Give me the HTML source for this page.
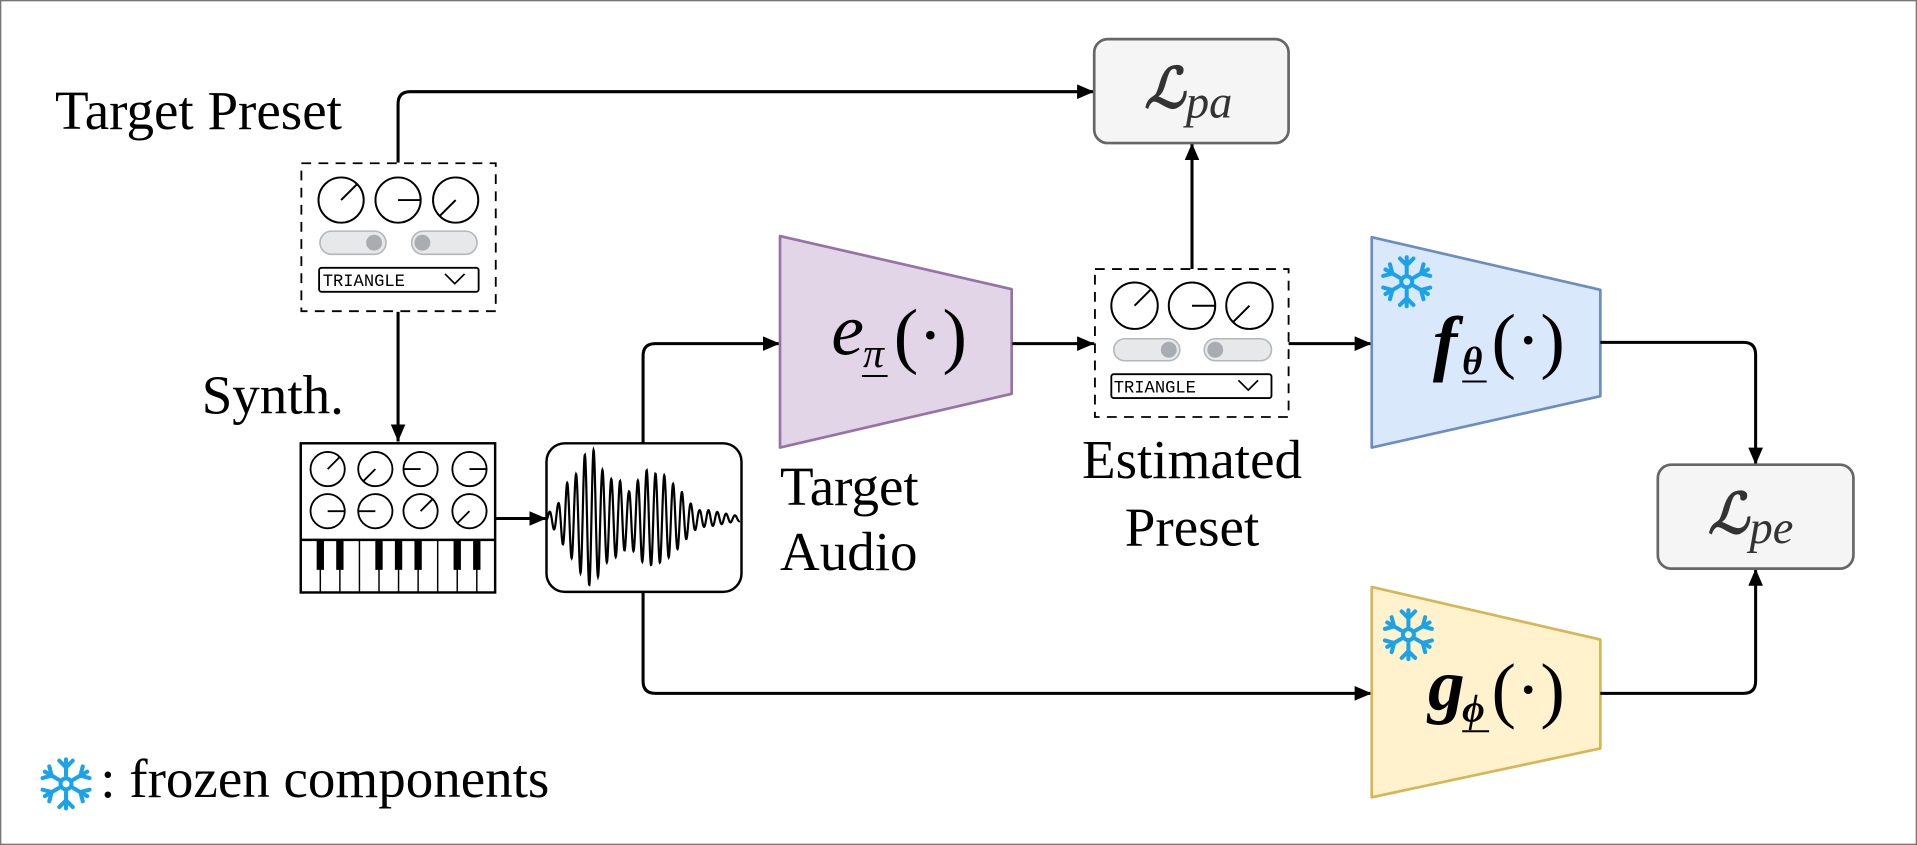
<!DOCTYPE html>
<html><head><meta charset="utf-8"><style>
html,body{margin:0;padding:0;background:#fff}
svg{display:block}
.t{font-family:"Liberation Serif","Times New Roman",serif;fill:#000}
.m{font-family:"Liberation Mono",monospace;fill:#000}
</style></head><body>
<svg width="1917" height="845" viewBox="0 0 1568 691" preserveAspectRatio="none" xmlns="http://www.w3.org/2000/svg">
<defs>
<marker id="ah" viewBox="0 0 14 12" refX="14" refY="6" markerWidth="14" markerHeight="12" markerUnits="userSpaceOnUse" orient="auto">
<path d="M0,0 L14,6 L0,12 z" fill="#000"/></marker>
<g id="snow" stroke="#1aa3e8" stroke-width="3.3" stroke-linecap="round" fill="none">
<circle r="4.5"/>
<g id="arm"><line x1="0" y1="-7" x2="0" y2="-20"/><polyline points="-5.5,-19 0,-13.5 5.5,-19"/></g>
<use href="#arm" transform="rotate(60)"/><use href="#arm" transform="rotate(120)"/>
<use href="#arm" transform="rotate(180)"/><use href="#arm" transform="rotate(240)"/><use href="#arm" transform="rotate(300)"/>
</g>
</defs>
<rect x="0.5" y="0.5" width="1567" height="690" fill="#fff" stroke="#777" stroke-width="1.2"/>

<!-- Target preset -->
<text x="45" y="105.5" class="t" font-size="45">Target Preset</text>
<rect x="246.5" y="133.5" width="159" height="121" fill="none" stroke="#000" stroke-width="1.5" stroke-dasharray="8,6"/>
<g stroke="#000" stroke-width="1.6" fill="none">
<circle cx="279" cy="163.6" r="18.5"/><line x1="279" y1="163.6" x2="292" y2="150.6"/>
<circle cx="325.6" cy="163.6" r="18.5"/><line x1="325.6" y1="163.6" x2="344" y2="163.6"/>
<circle cx="372.7" cy="163.6" r="18.5"/><line x1="372.7" y1="163.6" x2="359.7" y2="176.6"/>
</g>
<rect x="261.7" y="189" width="54" height="19" rx="9.5" fill="#e6e8ea" stroke="#b3b7bb" stroke-width="1.3"/>
<circle cx="306" cy="198.5" r="6.5" fill="#a9adb1"/>
<rect x="336.7" y="189" width="53.5" height="19" rx="9.5" fill="#e6e8ea" stroke="#b3b7bb" stroke-width="1.3"/>
<circle cx="345.5" cy="198.5" r="6.5" fill="#a9adb1"/>
<rect x="261" y="219" width="130.5" height="19.6" rx="2" fill="#fff" stroke="#000" stroke-width="1.5"/>
<text x="264" y="234" class="m" font-size="14">TRIANGLE</text>
<polyline points="364,224 372,232 380,224" fill="none" stroke="#000" stroke-width="1.4"/>

<!-- Synth -->
<text x="165" y="338" class="t" font-size="45">Synth.</text>
<path d="M325.6,255 V361" stroke="#000" stroke-width="2.5" fill="none" marker-end="url(#ah)"/>
<rect x="246" y="362.5" width="159" height="122" fill="#fff" stroke="#000" stroke-width="2"/>
<line x1="246" y1="441.5" x2="405" y2="441.5" stroke="#000" stroke-width="2"/>
<g stroke="#000" stroke-width="1.5" fill="none">
<circle cx="268" cy="383.6" r="14"/><line x1="268" y1="383.6" x2="278" y2="373.6"/>
<circle cx="307" cy="383.6" r="14"/><line x1="307" y1="383.6" x2="297" y2="393.6"/>
<circle cx="344" cy="383.6" r="14"/><line x1="344" y1="383.6" x2="330" y2="383.6"/>
<circle cx="384" cy="383.6" r="14"/><line x1="384" y1="383.6" x2="398" y2="383.6"/>
<circle cx="268" cy="418" r="14"/><line x1="268" y1="418" x2="282" y2="418"/>
<circle cx="307" cy="418" r="14"/><line x1="307" y1="418" x2="293" y2="418"/>
<circle cx="344" cy="418" r="14"/><line x1="344" y1="418" x2="354" y2="408"/>
<circle cx="384" cy="418" r="14"/><line x1="384" y1="418" x2="374" y2="428"/>
</g>
<g stroke="#000" stroke-width="1.2">
<line x1="262" y1="441" x2="262" y2="484"/><line x1="278" y1="441" x2="278" y2="484"/>
<line x1="294" y1="441" x2="294" y2="484"/><line x1="310" y1="441" x2="310" y2="484"/>
<line x1="326" y1="441" x2="326" y2="484"/><line x1="342" y1="441" x2="342" y2="484"/>
<line x1="358" y1="441" x2="358" y2="484"/><line x1="374" y1="441" x2="374" y2="484"/>
<line x1="390" y1="441" x2="390" y2="484"/>
</g>
<g fill="#000">
<rect x="259" y="441" width="6" height="25"/><rect x="275" y="441" width="6" height="25"/>
<rect x="307" y="441" width="6" height="25"/><rect x="323" y="441" width="6" height="25"/>
<rect x="339" y="441" width="6" height="25"/><rect x="371" y="441" width="6" height="25"/>
<rect x="387" y="441" width="6" height="25"/>
</g>
<path d="M405,424 H447" stroke="#000" stroke-width="2.5" fill="none" marker-end="url(#ah)"/>

<!-- Audio -->
<rect x="447" y="362.5" width="159.5" height="121.5" rx="15" fill="#fff" stroke="#000" stroke-width="2"/>
<path id="wave" d="" fill="none" stroke="#000" stroke-width="1.8"/>
<path d="M526,362 V291 Q526,281 536,281 H638" stroke="#000" stroke-width="2.5" fill="none" marker-end="url(#ah)"/>
<path d="M526,484 V557 Q526,567 536,567 H1122" stroke="#000" stroke-width="2.5" fill="none" marker-end="url(#ah)"/>

<!-- Encoder -->
<path d="M638,193 L827.5,236.5 L827.5,322 L638,366 Z" fill="#e1d5e7" stroke="#9673a6" stroke-width="2.2" stroke-linejoin="round"/>
<text x="680" y="290" class="t" font-size="60" font-style="italic">e</text>
<text x="706" y="300" class="t" font-size="34" font-style="italic">π</text>
<line x1="705" y1="307.5" x2="726" y2="307.5" stroke="#000" stroke-width="1.6"/>
<text x="731" y="294" class="t" font-size="60">(·)</text>
<text x="638" y="413" class="t" font-size="45">Target</text>
<text x="638" y="466" class="t" font-size="45">Audio</text>
<path d="M828,281 H895" stroke="#000" stroke-width="2.5" fill="none" marker-end="url(#ah)"/>

<!-- Estimated preset -->
<rect x="895.6" y="220" width="158.4" height="121" fill="none" stroke="#000" stroke-width="1.5" stroke-dasharray="8,6"/>
<g stroke="#000" stroke-width="1.6" fill="none">
<circle cx="928" cy="250" r="19"/><line x1="928" y1="250" x2="941" y2="237"/>
<circle cx="975" cy="250" r="19"/><line x1="975" y1="250" x2="994" y2="250"/>
<circle cx="1022" cy="250" r="19"/><line x1="1022" y1="250" x2="1009" y2="263"/>
</g>
<rect x="911" y="277" width="54" height="18" rx="9" fill="#e6e8ea" stroke="#b3b7bb" stroke-width="1.3"/>
<circle cx="956" cy="286" r="6.5" fill="#a9adb1"/>
<rect x="985" y="277" width="55" height="18" rx="9" fill="#e6e8ea" stroke="#b3b7bb" stroke-width="1.3"/>
<circle cx="994" cy="286" r="6.5" fill="#a9adb1"/>
<rect x="909" y="306" width="131" height="19.5" rx="2" fill="#fff" stroke="#000" stroke-width="1.5"/>
<text x="911" y="321" class="m" font-size="14">TRIANGLE</text>
<polyline points="1013,311 1021,319 1029,311" fill="none" stroke="#000" stroke-width="1.4"/>
<text x="975" y="391" class="t" font-size="45" text-anchor="middle">Estimated</text>
<text x="975" y="446" class="t" font-size="45" text-anchor="middle">Preset</text>
<path d="M975,220 V117" stroke="#000" stroke-width="2.5" fill="none" marker-end="url(#ah)"/>
<path d="M1054,281 H1122" stroke="#000" stroke-width="2.5" fill="none" marker-end="url(#ah)"/>

<!-- Lpa -->
<path d="M325.6,133 V85 Q325.6,75 335.6,75 H895" stroke="#000" stroke-width="2.5" fill="none" marker-end="url(#ah)"/>
<rect x="895" y="32" width="159" height="85" rx="11" fill="#f5f5f5" stroke="#666" stroke-width="2.2"/>
<text x="936" y="88" font-family="DejaVu Serif,serif" font-size="46" font-style="italic" font-weight="bold" fill="#333">ℒ</text>
<text x="970" y="96" class="t" font-size="38" font-style="italic" style="fill:#333">pa</text>

<!-- f -->
<path d="M1122,194 L1309,237 L1309,324 L1122,366 Z" fill="#dae8fc" stroke="#6c8ebf" stroke-width="2.2" stroke-linejoin="round"/>
<use href="#snow" x="1150.6" y="230.4"/>
<text x="1172" y="300" class="t" font-size="60" font-style="italic" font-weight="bold">f</text>
<text x="1196" y="306" class="t" font-size="32" font-style="italic" font-weight="bold">θ</text>
<line x1="1196" y1="312" x2="1216" y2="312" stroke="#000" stroke-width="1.6"/>
<text x="1220" y="298" class="t" font-size="60">(·)</text>
<path d="M1309,280 H1426 Q1436,280 1436,290 V380" stroke="#000" stroke-width="2.5" fill="none" marker-end="url(#ah)"/>

<!-- g -->
<path d="M1122,480 L1309,523 L1309,612 L1122,652 Z" fill="#fff2cc" stroke="#d6b656" stroke-width="2.2" stroke-linejoin="round"/>
<use href="#snow" x="1152" y="519"/>
<text x="1168" y="580" class="t" font-size="60" font-style="italic" font-weight="bold">g</text>
<text x="1196" y="590" class="t" font-size="32" font-style="italic" font-weight="bold">ϕ</text>
<line x1="1196" y1="598" x2="1218" y2="598" stroke="#000" stroke-width="1.6"/>
<text x="1220" y="584" class="t" font-size="60">(·)</text>
<path d="M1309,567 H1426 Q1436,567 1436,557 V465" stroke="#000" stroke-width="2.5" fill="none" marker-end="url(#ah)"/>

<!-- Lpe -->
<rect x="1356" y="380" width="160" height="85" rx="11" fill="#f5f5f5" stroke="#666" stroke-width="2.2"/>
<text x="1397" y="436" font-family="DejaVu Serif,serif" font-size="46" font-style="italic" font-weight="bold" fill="#333">ℒ</text>
<text x="1431" y="444" class="t" font-size="38" font-style="italic" style="fill:#333">pe</text>

<!-- legend -->
<use href="#snow" x="54" y="641"/>
<text x="82" y="651.6" class="t" font-size="45">: frozen components</text>
</svg>
<script>
(function(){
 var E=[[20,12],[55,45],[80,105],[107,130],[133,190],[160,207],[186,147],[213,118],[240,113],[266,80],[293,113],[320,145],[345,135],[372,130],[398,105],[425,80],[452,45],[478,25],[505,25],[530,20],[555,15],[580,10],[600,8]];
 function env(x){for(var i=0;i<E.length-1;i++){if(x<=E[i+1][0]){var t=(x-E[i][0])/(E[i+1][0]-E[i][0]);return E[i][1]+t*(E[i+1][1]-E[i][1]);}}return 8;}
 var k=1/3/1.2226, d="";
 for(var zx=20;zx<=600;zx+=0.7){
  var a=env(zx), ph=(zx-55)/26.5*2*Math.PI;
  var X=(zx/3+540)/1.2226, Y=424-a*k*Math.cos(ph);
  d+=(d?"L":"M")+X.toFixed(2)+","+Y.toFixed(2);
 }
 document.getElementById("wave").setAttribute("d",d);
})();
</script>
</body></html>
